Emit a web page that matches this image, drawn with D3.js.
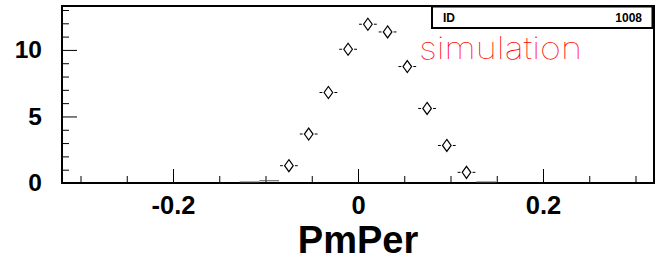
<!DOCTYPE html>
<html><head><meta charset="utf-8">
<script src="https://cdn.jsdelivr.net/npm/d3@7"></script>
<style>
html,body{margin:0;padding:0;background:#fff;}
svg{display:block;}
</style></head>
<body>
<svg id="c" width="659" height="261"></svg>
<script>
// ---- data ----
const binCenters = [-0.1173, -0.0960, -0.0747, -0.0533, -0.0320, -0.0107, 0.0107, 0.0320, 0.0533, 0.0747, 0.0960, 0.1173, 0.1387];
const counts     = [0.05, 0.17, 1.30, 3.68, 6.80, 10.05, 11.93, 11.35, 8.75, 5.60, 2.82, 0.80, 0.05];
const binHalfWidth = 0.01067;
const xMajorTicks = [-0.2, 0, 0.2];
const xTickLabels = ["-0.2", "0", "0.2"];
const xMinorTicks = [-0.3, -0.25, -0.15, -0.1, -0.05, 0.05, 0.1, 0.15, 0.25, 0.3];
const yMajorTicks = [0, 5, 10];
const yTickLabels = ["0", "5", "10"];
const yMinorTicks = [1, 2, 3, 4, 6, 7, 8, 9, 11, 12, 13];
const xTitle = "PmPer";
const statsLabel = "ID";
const statsValue = "1008";
const annotation = "simulation";

// ---- layout ----
const L = 62, R = 654, T = 6, B = 183;
const svg = d3.select("#c");
const x = d3.scaleLinear().domain([-0.32, 0.32]).range([L, R]);
const y = d3.scaleLinear().domain([0, 13.3]).range([B, T]);
const FONT = "Liberation Sans, Arial, Helvetica, sans-serif";

// y axis minor
svg.append("g").attr("transform", `translate(${L},0)`)
  .call(d3.axisLeft(y).tickValues(yMinorTicks).tickSizeInner(-7).tickSizeOuter(0).tickFormat(""))
  .call(g => g.select(".domain").remove())
  .selectAll("line").attr("stroke", "#000").attr("stroke-width", 1);
// y axis major
svg.append("g").attr("transform", `translate(${L},0)`)
  .call(d3.axisLeft(y).tickValues(yMajorTicks).tickSizeInner(-15).tickSizeOuter(0).tickPadding(20)
        .tickFormat((d, i) => yTickLabels[i]))
  .call(g => g.select(".domain").remove())
  .call(g => g.selectAll("line").attr("stroke", "#000").attr("stroke-width", 1))
  .call(g => g.selectAll("text").attr("font-family", FONT)
        .attr("font-weight", "bold").attr("font-size", 24.5).attr("fill", "#000"));

// x axis minor
svg.append("g").attr("transform", `translate(0,${B})`)
  .call(d3.axisBottom(x).tickValues(xMinorTicks).tickSizeInner(-7).tickSizeOuter(0).tickFormat(""))
  .call(g => g.select(".domain").remove())
  .selectAll("line").attr("stroke", "#000").attr("stroke-width", 1);
// x axis major
svg.append("g").attr("transform", `translate(0,${B})`)
  .call(d3.axisBottom(x).tickValues(xMajorTicks).tickSizeInner(-14).tickSizeOuter(0).tickPadding(13)
        .tickFormat((d, i) => xTickLabels[i]))
  .call(g => g.select(".domain").remove())
  .call(g => g.selectAll("line").attr("stroke", "#000").attr("stroke-width", 1))
  .call(g => g.selectAll("text").attr("font-family", FONT)
        .attr("font-weight", "bold").attr("font-size", 25.5).attr("fill", "#000"));

// frame
svg.append("rect").attr("x", L).attr("y", T).attr("width", R - L).attr("height", B - T)
  .attr("fill", "none").attr("stroke", "#000").attr("stroke-width", 2);

// data
const pts = binCenters.map((c, i) => ({c, v: counts[i]}));
const mh = 6, mw = 4.3, gap = 6;
const g = svg.append("g");
pts.forEach(p => {
  const cx = x(p.c), cy = y(p.v);
  const x0 = x(p.c - binHalfWidth), x1 = x(p.c + binHalfWidth);
  const showMarker = cy + mh <= B;
  if (showMarker) {
    g.append("line").attr("x1", x0 + 1).attr("x2", cx - gap).attr("y1", cy).attr("y2", cy)
      .attr("stroke", "#000").attr("stroke-width", 1);
    g.append("line").attr("x1", cx + gap).attr("x2", x1 - 1).attr("y1", cy).attr("y2", cy)
      .attr("stroke", "#000").attr("stroke-width", 1);
    g.append("path")
      .attr("d", `M${cx},${cy - mh}L${cx + mw},${cy}L${cx},${cy + mh}L${cx - mw},${cy}Z`)
      .attr("fill", "none").attr("stroke", "#000").attr("stroke-width", 1.2);
  } else {
    g.append("line").attr("x1", x0).attr("x2", x1).attr("y1", Math.min(cy, B - 1)).attr("y2", Math.min(cy, B - 1))
      .attr("stroke", "#555").attr("stroke-width", 1);
  }
});

// x title
svg.append("text").attr("x", x(0)).attr("y", 252.5).attr("text-anchor", "middle")
  .attr("font-family", FONT).attr("font-weight", "bold")
  .attr("font-size", 38).attr("fill", "#000").text(xTitle);

// stats box
svg.append("rect").attr("x", 432).attr("y", 6.5).attr("width", 220.5).attr("height", 21.5)
  .attr("fill", "#fff").attr("stroke", "#000").attr("stroke-width", 2);
svg.append("text").attr("x", 443).attr("y", 22).attr("font-family", FONT)
  .attr("font-weight", "bold").attr("font-size", 12).text(statsLabel);
svg.append("text").attr("x", 642).attr("y", 22).attr("text-anchor", "end")
  .attr("font-family", FONT)
  .attr("font-weight", "bold").attr("font-size", 12).text(statsValue);

// annotation
svg.append("text").attr("x", 419).attr("y", 59)
  .attr("font-family", "Inter, 'DejaVu Sans', sans-serif").attr("font-weight", 100)
  .attr("font-size", 31).attr("fill", "#ff0000")
  .attr("textLength", 163).attr("lengthAdjust", "spacingAndGlyphs")
  .text(annotation);
</script>
</body></html>
